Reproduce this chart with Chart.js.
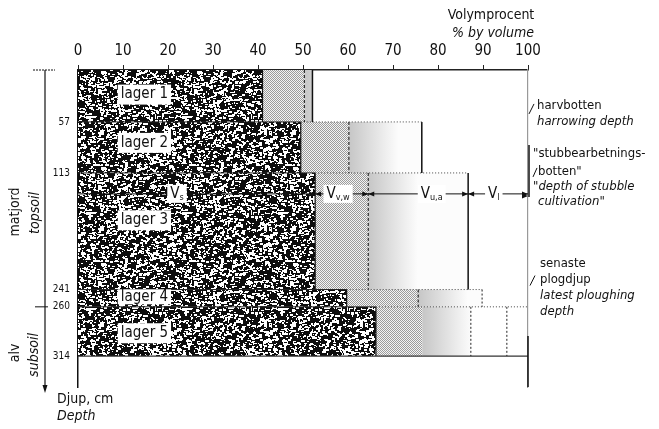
<!DOCTYPE html>
<html>
<head>
<meta charset="utf-8">
<title>Volymprocent</title>
<script src="https://cdn.jsdelivr.net/npm/chart.js@4.4.0/dist/chart.umd.min.js"></script>
<style>
  body { margin: 0; background: #fff; }
  #wrap { width: 659px; height: 429px; }
</style>
</head>
<body>
<div id="wrap"><canvas id="profileChart"></canvas></div>
<script>
// layers (depth in cm) and cumulative volume percent at each boundary
const layerNames = ["lager 1", "lager 2", "lager 3", "lager 4", "lager 5"];
const layerTop = [0, 57, 113, 241, 260];
const layerBottom = [57, 113, 241, 260, 314];
const solidPct = [41, 49.5, 52.7, 59.7, 66.2];   // Vs
const waterPct = [50.3, 60.2, 64.5, 75.6, 76.5]; // Vs + Vv,w
const airPct = [52.1, 76.4, 86.7, 89.8, 87.3];   // Vs + Vv,w + Vu,a
const loosePct = [null, null, null, null, 95.3];
const depthTicks = [57, 113, 241, 260, 314];
const volumeTicks = [0, 10, 20, 30, 40, 50, 60, 70, 80, 90, 100];

// annotation placement
const labelDepth = [27, 80, 165, 249, 289];
const vRowDepth = 136;
const vLabels = [["s", 22], ["v,w", 57.8], ["u,a", 78.6], ["l", 92.4]];

const FONT = "'DejaVu Sans Condensed', 'DejaVu Sans', sans-serif";
function font(size, italic) {
  return (italic ? "italic " : "") + size + "px " + FONT;
}

// dark speckle for the solid part (seeded so it is the same every time)
function makeSpeckle() {
  const c = document.createElement("canvas");
  c.width = 96; c.height = 96;
  const g = c.getContext("2d");
  g.fillStyle = "#0d0d0d";
  g.fillRect(0, 0, 96, 96);
  let seed = 12345;
  const rnd = () => (seed = (seed * 16807) % 2147483647) / 2147483647;
  g.fillStyle = "#fff";
  for (let k = 0; k < 1500; k++) {
    const x = Math.floor(rnd() * 96), y = Math.floor(rnd() * 96);
    g.fillRect(x, y, 1 + Math.floor(rnd() * 3), 1 + Math.floor(rnd() * 2));
  }
  return g.createPattern(c, "repeat");
}

// fine grey stipple for the water part
function makeStipple() {
  const c = document.createElement("canvas");
  c.width = 2; c.height = 2;
  const g = c.getContext("2d");
  g.fillStyle = "#f4f4f4";
  g.fillRect(0, 0, 2, 2);
  g.fillStyle = "#9c9c9c";
  g.fillRect(0, 0, 1, 1);
  g.fillRect(1, 1, 1, 1);
  return g.createPattern(c, "repeat");
}

const speckle = makeSpeckle();
const stipple = makeStipple();

// air part fades from grey to white
function airFill(i) {
  return (context) => {
    const chart = context.chart;
    if (!chart.chartArea) return "#ddd";
    const xs = chart.scales.x;
    const x0 = xs.getPixelForValue(waterPct[i]);
    const x1 = xs.getPixelForValue(waterPct[i] + 11);
    const grad = chart.ctx.createLinearGradient(x0, 0, x1, 0);
    grad.addColorStop(0, "#c6c6c6");
    grad.addColorStop(0.4, "#dcdcdc");
    grad.addColorStop(0.75, "#efefef");
    grad.addColorStop(1, "#fcfcfc");
    return grad;
  };
}

function box(x0, x1, y0, y1) {
  return [{x: x0, y: y0}, {x: x1, y: y0}, {x: x1, y: y1}, {x: x0, y: y1}, {x: x0, y: y0}];
}

function area(points, bg) {
  return {
    data: points, showLine: true, fill: "shape", backgroundColor: bg,
    borderColor: "transparent", borderWidth: 0, pointRadius: 0, order: 2
  };
}

function edge(points, color, width, dash) {
  return {
    data: points, showLine: true, fill: false, borderColor: color,
    borderWidth: width, borderDash: dash || [], pointRadius: 0, order: 1
  };
}

const datasets = [];
layerNames.forEach((name, i) => {
  const t = layerTop[i], b = layerBottom[i];
  datasets.push(area(box(0, solidPct[i], t, b), speckle));
  datasets.push(area(box(solidPct[i], waterPct[i], t, b), stipple));
  datasets.push(area(box(waterPct[i], airPct[i], t, b), airFill(i)));

  // layer top boundary
  if (i > 0) {
    const solidEnd = Math.max(solidPct[i], solidPct[i - 1]);
    const end = Math.max(airPct[i], airPct[i - 1]);
    datasets.push(edge([{x: 0, y: t}, {x: solidEnd, y: t}], "#222", 1));
    datasets.push(edge([{x: solidEnd, y: t}, {x: i === 4 ? 100 : end, y: t}], "#444", 1, [1, 2]));
  }
  datasets.push(edge([{x: solidPct[i], y: t}, {x: solidPct[i], y: b}], "#111", 1.2));
  if (i < 4) {
    datasets.push(edge([{x: waterPct[i], y: t}, {x: waterPct[i], y: b}], "#111", 1, [3, 2]));
  }
  if (i < 3) {
    datasets.push(edge([{x: airPct[i], y: t}, {x: airPct[i], y: b}], "#111", 1.5));
  } else {
    datasets.push(edge([{x: airPct[i], y: t}, {x: airPct[i], y: b}], "#222", 1, [2, 2]));
  }
  if (loosePct[i] !== null) {
    datasets.push(edge([{x: loosePct[i], y: t}, {x: loosePct[i], y: b}], "#222", 1, [2, 2]));
  }
});
datasets.push(edge([{x: 0, y: 314}, {x: 100, y: 314}], "#333", 1.2));

function arrow(ctx, x, y, dir) {
  ctx.beginPath();
  ctx.moveTo(x, y);
  ctx.lineTo(x - dir * 6, y - 2.5);
  ctx.lineTo(x - dir * 6, y + 2.5);
  ctx.closePath();
  ctx.fill();
}

function whiteText(ctx, text, x, y, h) {
  const w = ctx.measureText(text).width;
  ctx.fillStyle = "#fff";
  ctx.fillRect(x - 3, y - h / 2, w + 6, h);
  ctx.fillStyle = "#111";
  ctx.fillText(text, x, y);
}

// texts and annotations around the plot
const notes = {
  id: "notes",
  afterDraw(chart) {
    const {ctx, chartArea: ca, scales} = chart;
    const xs = scales.x, ys = scales.y;
    ctx.save();
    ctx.fillStyle = "#111";
    ctx.strokeStyle = "#111";
    ctx.textBaseline = "middle";
    ctx.textAlign = "left";

    // layer names
    ctx.font = font(15);
    layerNames.forEach((name, i) => {
      whiteText(ctx, name, xs.getPixelForValue(9.5), ys.getPixelForValue(labelDepth[i]), i === 3 ? 15 : 20);
    });

    // V row across layer 3
    const rowY = ys.getPixelForValue(vRowDepth);
    const bounds = [0, solidPct[2], waterPct[2], airPct[2], 100];
    ctx.lineWidth = 1;
    for (let k = 0; k < 4; k++) {
      const a = xs.getPixelForValue(bounds[k]), b = xs.getPixelForValue(bounds[k + 1]);
      ctx.beginPath(); ctx.moveTo(a, rowY); ctx.lineTo(b, rowY); ctx.stroke();
      if (k > 0) arrow(ctx, a, rowY, -1);
      arrow(ctx, b, rowY, 1);
    }
    vLabels.forEach(([sub, pct]) => {
      const cx = xs.getPixelForValue(pct);
      ctx.font = font(15);
      const wV = ctx.measureText("V").width;
      ctx.font = font(9);
      const wS = ctx.measureText(sub).width;
      const x0 = cx - (wV + wS) / 2;
      ctx.fillStyle = "#fff";
      ctx.fillRect(x0 - 3, rowY - 9, wV + wS + 6, 18);
      ctx.fillStyle = "#111";
      ctx.font = font(15);
      ctx.fillText("V", x0, rowY);
      ctx.font = font(9);
      ctx.fillText(sub, x0 + wV, rowY + 4);
    });

    // axis title
    ctx.textAlign = "center";
    ctx.font = font(14);
    ctx.fillText("Volymprocent", 491, 15);
    ctx.font = font(14, true);
    ctx.fillText("% by volume", 493, 33);

    // right-hand notes
    ctx.textAlign = "left";
    const rx = ca.right;
    const y57 = ys.getPixelForValue(57);
    const y113 = ys.getPixelForValue(113);
    const y241 = ys.getPixelForValue(241);
    ctx.font = font(13);
    ctx.fillText("harvbotten", rx + 9, y57 - 16);
    ctx.font = font(13, true);
    ctx.fillText("harrowing depth", rx + 9, y57);
    ctx.font = font(13);
    ctx.fillText("\"stubbearbetnings-", rx + 5, y113 - 19);
    ctx.fillText("botten\"", rx + 10, y113 - 1);
    ctx.font = font(13, true);
    ctx.fillText("\"depth of stubble", rx + 5, y113 + 14);
    ctx.fillText("cultivation\"", rx + 10, y113 + 29);
    ctx.font = font(13);
    ctx.fillText("senaste", rx + 12, y241 - 26);
    ctx.fillText("plogdjup", rx + 12, y241 - 10);
    ctx.font = font(13, true);
    ctx.fillText("latest ploughing", rx + 12, y241 + 6);
    ctx.fillText("depth", rx + 12, y241 + 22);

    // leaders on the right line
    ctx.lineWidth = 1;
    ctx.beginPath();
    ctx.moveTo(rx + 1, y57 - 8); ctx.lineTo(rx + 6, y57 - 18);
    ctx.moveTo(rx + 5, y113 + 4); ctx.lineTo(rx + 9, y113 - 5);
    ctx.moveTo(rx + 2, y241 - 4); ctx.lineTo(rx + 7, y241 - 14);
    ctx.stroke();
    ctx.lineWidth = 1.5;
    ctx.beginPath();
    ctx.moveTo(rx + 1, y113 - 28); ctx.lineTo(rx + 1, y113 + 24);
    ctx.moveTo(rx, ys.getPixelForValue(292)); ctx.lineTo(rx, ca.bottom);
    ctx.stroke();
    arrow(ctx, rx, y113 + 23, 1);

    // depth arrow on the left
    const lx = ca.left - 33;
    ctx.lineWidth = 1.2;
    ctx.beginPath();
    ctx.moveTo(lx, ca.top); ctx.lineTo(lx, ca.bottom + 2);
    ctx.stroke();
    ctx.beginPath();
    ctx.moveTo(lx, ca.bottom + 6); ctx.lineTo(lx - 2.5, ca.bottom - 2); ctx.lineTo(lx + 2.5, ca.bottom - 2);
    ctx.closePath(); ctx.fill();
    ctx.lineWidth = 1;
    ctx.setLineDash([2, 1]);
    ctx.beginPath(); ctx.moveTo(lx - 12, ca.top); ctx.lineTo(lx + 10, ca.top); ctx.stroke();
    ctx.setLineDash([]);
    const y260 = ys.getPixelForValue(260);
    ctx.beginPath(); ctx.moveTo(lx - 10, y260); ctx.lineTo(lx + 3, y260); ctx.stroke();

    // soil names, rotated
    const rot = (text, x, y, f) => {
      ctx.save();
      ctx.translate(x, y);
      ctx.rotate(-Math.PI / 2);
      ctx.textAlign = "center";
      ctx.font = f;
      ctx.fillText(text, 0, 0);
      ctx.restore();
    };
    rot("matjord", 15, 212, font(14));
    rot("topsoil", 35, 213, font(14, true));
    rot("alv", 15, 353, font(14));
    rot("subsoil", 34, 355, font(14, true));

    ctx.textAlign = "left";
    ctx.font = font(14);
    ctx.fillText("Djup, cm", 57, 399);
    ctx.font = font(14, true);
    ctx.fillText("Depth", 57, 416);
    ctx.restore();
  }
};

const config = {
  type: "scatter",
  data: { datasets: datasets },
  options: {
    responsive: true,
    maintainAspectRatio: false,
    animation: false,
    events: [],
    layout: { padding: { left: 0, right: 0, top: 0, bottom: 42 } },
    plugins: { legend: { display: false }, tooltip: { enabled: false } },
    scales: {
      x: {
        type: "linear", position: "top", min: 0, max: 100, z: 1,
        afterBuildTicks: (axis) => { axis.ticks = volumeTicks.map(v => ({ value: v })); },
        ticks: { font: { family: FONT, size: 15 }, color: "#111", padding: 5, maxRotation: 0 },
        grid: { drawOnChartArea: false, drawTicks: true, tickLength: 5, color: "#222" },
        border: { color: "#222", width: 1.5 },
        afterFit: (axis) => { axis.height = 70; }
      },
      y: {
        type: "linear", position: "left", reverse: true, min: 0, max: 348, z: 1,
        afterBuildTicks: (axis) => { axis.ticks = depthTicks.map(v => ({ value: v })); },
        ticks: { font: { family: FONT, size: 10 }, color: "#111", padding: 8 },
        grid: { drawOnChartArea: false, drawTicks: false },
        border: { color: "#111", width: 1.5 },
        afterFit: (axis) => { axis.width = 78; }
      },
      y2: {
        type: "linear", position: "right", z: 1,
        ticks: { display: false },
        grid: { drawOnChartArea: false, drawTicks: false },
        border: { color: "#999", width: 1.2 },
        afterFit: (axis) => { axis.width = 131; }
      }
    }
  },
  plugins: [notes]
};

const ctx = document.getElementById("profileChart").getContext("2d");
const profileChart = new Chart(ctx, config);
</script>
</body>
</html>
